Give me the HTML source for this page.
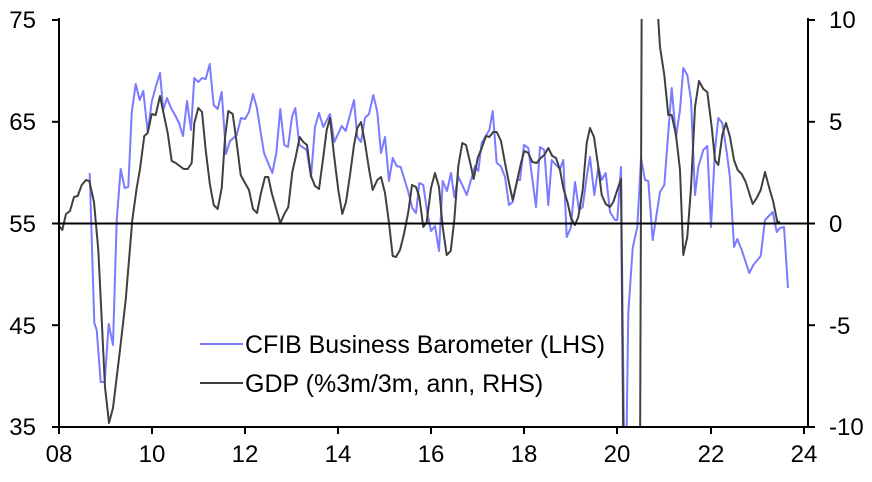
<!DOCTYPE html>
<html><head><meta charset="utf-8"><style>
html,body{margin:0;padding:0;background:#fff;}
svg{display:block;font-family:"Liberation Sans",Arial,sans-serif;}
</style></head><body>
<svg width="872" height="482" viewBox="0 0 872 482" xmlns="http://www.w3.org/2000/svg">
<defs><clipPath id="c"><rect x="59" y="19" width="749" height="408"/></clipPath></defs>
<g clip-path="url(#c)" fill="none" stroke-linejoin="round">
<polyline stroke="#7b7bff" stroke-width="2" points="89.7,173 94.3,323 96.7,330 100.7,382 104.7,382 108.7,324 113,345 116.7,220 120.7,169 124.7,188 128.3,187 131.7,113 135.7,84 139.7,100 143.3,91 147.7,132 151.7,102 155.7,87 160,73 163.3,110 167,98 171,108 175,115 179,123 183,136 187,101 191,130 194.3,78 198.3,82 202,78 205.7,79 209.7,64 213.7,105 217.7,109 221.7,92 226,154 230,141 236.7,135 241,118 245,119 249,112 253,94 256.7,107 264,153 272.3,173 276.3,153 280.3,109 284.3,145 288,147 292,117 295.3,108 299.3,145 306.7,150 311,177 315,127 319,113 323.3,127 330,114 334.3,142 341.7,126 345.7,131 354,100 357.3,137 361,142 365,118 369,114 373.3,95 377.3,112 381,153 385,137 389,181 392.7,158 396.7,166 400.7,167 408.3,192 412.3,208 416,213 419.3,183 423.3,185 427.3,213 431,231 435,226 439,251 442.7,181 447,191 451,173 454.3,197 458.3,177 462.3,185 466.7,195 475,166 478.3,171 481.7,143 489.3,130 492.7,111 496.7,163 500.7,166 505,177 509,205 512.7,202 517.3,180 520,180 524,145 528.3,148 536,207 540,147 544.3,150 548.3,205 551.7,160 556,165 560,169 563.3,160 566.7,237 570.7,228 575,182 579,210 582.7,207 586.7,177 590,157 594.3,195 598.3,167 601.7,180 605.7,173 610,212 615,220 617.3,220 621,167 624,440 626.5,440 628.3,313 632.7,248 637.3,227 641,158 645,180 648.3,181 652.7,240 660,192 664.3,185 671.7,88 676,137 680,110 683.3,68 687.3,75 691,100 695,195 698.3,167 703.3,150 707.3,146 711,227 715,150 718.3,118 722.3,123 726.7,152 730,178 734,247 737.3,239 741.7,250 749.3,273 753.3,265 760.7,256 765,220 772.7,212 776.7,232 780,228 784,227 788,288"/>
<polyline stroke="#404040" stroke-width="2" points="58.3,225 62.3,230 66,214 70,211 74,197 77.7,196 81.7,185 86,180 89.3,181 94,202 98.3,250 105,387 109,423 113,408 120,350 125.7,300 132.3,220 136.7,188 140,169 144.3,136 147.7,133 151.7,114 155.7,115 160,96 163.3,112 167.7,133 171.7,161 175.7,163 179.7,166 183.7,169 187.7,169 191.7,163 194.3,123 198.3,108 202,112 205.7,150 209.7,183 213.7,205 217.7,209 221.7,188 225,138 228.3,111 232.7,114 236.7,143 240.7,175 245,183 249,190 253,209 257,213 261,193 265,177 268.3,177 271.7,193 275.7,207 280.3,223 284.3,214 288.3,207 292.3,172 295.7,157 299.7,137 303.3,142 307,145 311,176 315,186 319,189 323.3,157 326.7,130 330,118 334,155 338.3,190 342.3,214 346,202 350,175 354,145 357.3,128 361,122 365,143 369,169 372.7,190 377.3,180 381,177 385,193 389,223 392.7,256 396,257 400,250 404,234 408.3,212 412,185 416,187 419.3,197 423.3,227 426.7,222 431,188 435,173 439,187 442.7,227 446.7,255 450.7,251 454.3,220 458.3,166 462.3,143 466,145 470,162 473.7,179 477.7,158 481.7,148 486,136 489.3,137 493.3,132 496.7,132 501,141 505,163 509,183 512.7,200 517.3,180 521,163 524.3,151 528.3,153 532.3,162 536.7,163 540.7,158 544.3,155 548.3,148 552.3,156 556,158 560,170 563.3,188 567.7,203 571,218 575,225 578.3,217 582.7,190 586.7,143 590,128 594,137 598.3,167 601.7,195 605.7,204 610,207 613.3,202 617.3,190 621,179 623.5,470 640,470 641.7,0 657,0 658.3,20 660,47 664.3,75 668.3,115 671.7,115 676,135 680,170 683.3,255 687.3,237 691,188 695,107 699,81 703.3,89 707.3,92 711.7,127 715,160 718.3,165 722.3,135 726,123 730,137 734,160 737.7,170 741.7,174 745.7,182 752.7,204 756.7,198 760.7,190 765,172 769,187 773.3,202 777.3,222 780,222"/>
</g>
<g stroke="#000" stroke-width="2" fill="none">
<line x1="59" y1="223.5" x2="808" y2="223.5"/>
<polyline points="59,18 59,427 808,427 808,18"/>
<line x1="52" y1="20" x2="59" y2="20"/><line x1="52" y1="121.8" x2="59" y2="121.8"/><line x1="52" y1="223.5" x2="59" y2="223.5"/><line x1="52" y1="325.2" x2="59" y2="325.2"/><line x1="52" y1="427" x2="59" y2="427"/>
<line x1="808" y1="20" x2="815" y2="20"/><line x1="808" y1="121.8" x2="815" y2="121.8"/><line x1="808" y1="223.5" x2="815" y2="223.5"/><line x1="808" y1="325.2" x2="815" y2="325.2"/><line x1="808" y1="427" x2="815" y2="427"/>
<line x1="59" y1="427" x2="59" y2="434"/><line x1="152" y1="427" x2="152" y2="434"/><line x1="245" y1="427" x2="245" y2="434"/><line x1="338" y1="427" x2="338" y2="434"/><line x1="431" y1="427" x2="431" y2="434"/><line x1="524" y1="427" x2="524" y2="434"/><line x1="617" y1="427" x2="617" y2="434"/><line x1="711" y1="427" x2="711" y2="434"/><line x1="804" y1="427" x2="804" y2="434"/>
</g>
<g font-size="24" fill="#000">
<g text-anchor="end"><text x="36" y="28">75</text><text x="36" y="130">65</text><text x="36" y="232">55</text><text x="36" y="334">45</text><text x="36" y="435">35</text></g>
<g text-anchor="start"><text x="829" y="28">10</text><text x="829" y="130">5</text><text x="829" y="232">0</text><text x="829" y="334">-5</text><text x="829" y="435">-10</text></g>
<g text-anchor="middle"><text x="59" y="462">08</text><text x="152" y="462">10</text><text x="245" y="462">12</text><text x="338" y="462">14</text><text x="431" y="462">16</text><text x="524" y="462">18</text><text x="617" y="462">20</text><text x="711" y="462">22</text><text x="804" y="462">24</text></g>
<line x1="200" y1="344" x2="243" y2="344" stroke="#7b7bff" stroke-width="2"/>
<line x1="200" y1="383" x2="243" y2="383" stroke="#404040" stroke-width="2"/>
<text x="245" y="353" textLength="360" lengthAdjust="spacingAndGlyphs" font-size="25">CFIB Business Barometer (LHS)</text>
<text x="245" y="392" font-size="25">GDP (%3m/3m, ann, RHS)</text>
</g>
</svg>
</body></html>
